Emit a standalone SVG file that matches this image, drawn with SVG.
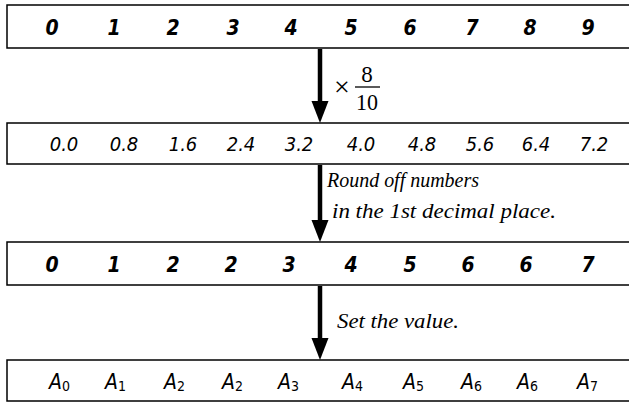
<svg xmlns="http://www.w3.org/2000/svg" width="629" height="405" viewBox="0 0 629 405">
<style>
.box{fill:none;stroke:#000;stroke-width:1.5}
.n{font-family:"Liberation Sans Narrow","DejaVu Sans Condensed","Liberation Sans",sans-serif;font-stretch:condensed;font-style:italic;font-weight:bold;font-size:21px;text-anchor:middle;fill:#000}
.d{font-family:"Liberation Sans Narrow","DejaVu Sans Condensed","Liberation Sans",sans-serif;font-stretch:condensed;font-style:italic;font-size:20px;text-anchor:middle;fill:#000}
.a{font-family:"Liberation Sans Narrow","DejaVu Sans Condensed","Liberation Sans",sans-serif;font-stretch:condensed;font-style:italic;font-size:21px;fill:#000}
.sub{font-style:normal;font-size:14px}
.lbl{font-family:"Liberation Serif","Times New Roman",serif;font-style:italic;font-size:20px;fill:#000}
.frac{font-family:"Liberation Serif","Times New Roman",serif;font-size:23px;fill:#000;text-anchor:middle}
.times{font-size:28px}
.shaft{stroke:#000;stroke-width:4.5;fill:none}
</style>
<g id="connectors">
<line class="shaft" x1="320" y1="49" x2="320" y2="102"/>
<path d="M311.5,101 L328.5,101 L320,123 Z" fill="#000"/>
<line class="shaft" x1="320" y1="165" x2="320" y2="221"/>
<path d="M311.5,220 L328.5,220 L320,242 Z" fill="#000"/>
<line class="shaft" x1="320" y1="286" x2="320" y2="339"/>
<path d="M311.5,338 L328.5,338 L320,360 Z" fill="#000"/>
<g id="label1">
<text class="frac times" x="342" y="96">×</text>
<text class="frac" x="367" y="82">8</text>
<line x1="355" y1="87" x2="380" y2="87" stroke="#000" stroke-width="1.3"/>
<text class="frac" x="367" y="110" textLength="22" lengthAdjust="spacingAndGlyphs">10</text>
</g>
<text class="lbl" x="327" y="187" textLength="152" lengthAdjust="spacingAndGlyphs">Round off numbers</text>
<text class="lbl" x="332" y="218" textLength="224" lengthAdjust="spacingAndGlyphs">in the 1st decimal place.</text>
<text class="lbl" x="337" y="328" textLength="122" lengthAdjust="spacingAndGlyphs">Set the value.</text>
</g>
<g id="row1">
<path class="box" d="M629,5 H7 V48 H629"/>
<text class="n" y="35"><tspan x="52">0</tspan><tspan x="114">1</tspan><tspan x="173">2</tspan><tspan x="233">3</tspan><tspan x="291">4</tspan><tspan x="351">5</tspan><tspan x="410">6</tspan><tspan x="472">7</tspan><tspan x="530">8</tspan><tspan x="588">9</tspan></text>
</g>
<g id="row2">
<path class="box" d="M629,123 H7 V164 H629"/>
<text class="d" y="151"><tspan x="64">0.0</tspan><tspan x="124">0.8</tspan><tspan x="183">1.6</tspan><tspan x="241">2.4</tspan><tspan x="299">3.2</tspan><tspan x="361">4.0</tspan><tspan x="422">4.8</tspan><tspan x="480">5.6</tspan><tspan x="536">6.4</tspan><tspan x="594">7.2</tspan></text>
</g>
<g id="row3">
<path class="box" d="M629,242 H7 V285 H629"/>
<text class="n" y="272"><tspan x="52">0</tspan><tspan x="114">1</tspan><tspan x="173">2</tspan><tspan x="231">2</tspan><tspan x="289">3</tspan><tspan x="351">4</tspan><tspan x="410">5</tspan><tspan x="468">6</tspan><tspan x="526">6</tspan><tspan x="588">7</tspan></text>
</g>
<g id="row4">
<path class="box" d="M629,360 H7 V401 H629"/>
<text class="a" x="49" y="389">A<tspan class="sub" dy="2">0</tspan></text>
<text class="a" x="105" y="389">A<tspan class="sub" dy="2">1</tspan></text>
<text class="a" x="164" y="389">A<tspan class="sub" dy="2">2</tspan></text>
<text class="a" x="222" y="389">A<tspan class="sub" dy="2">2</tspan></text>
<text class="a" x="278" y="389">A<tspan class="sub" dy="2">3</tspan></text>
<text class="a" x="342" y="389">A<tspan class="sub" dy="2">4</tspan></text>
<text class="a" x="403" y="389">A<tspan class="sub" dy="2">5</tspan></text>
<text class="a" x="461" y="389">A<tspan class="sub" dy="2">6</tspan></text>
<text class="a" x="517" y="389">A<tspan class="sub" dy="2">6</tspan></text>
<text class="a" x="577" y="389">A<tspan class="sub" dy="2">7</tspan></text>
</g>
</svg>
